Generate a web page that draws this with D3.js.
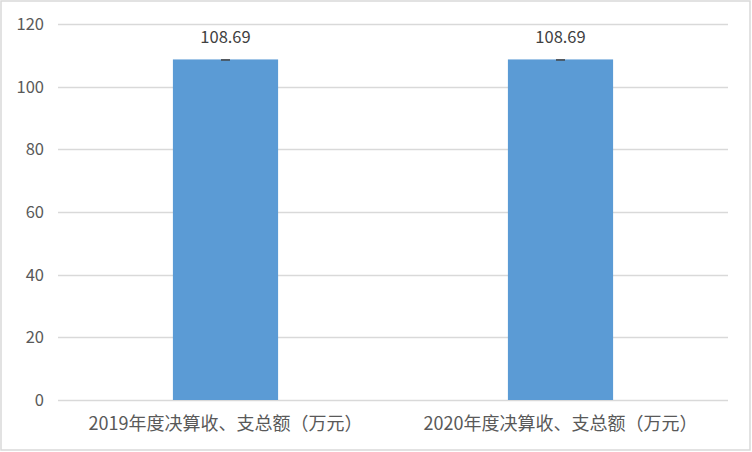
<!DOCTYPE html>
<meta charset="utf-8">
<script src="https://cdn.jsdelivr.net/npm/d3@7/dist/d3.min.js"></script>
<style>
  body { margin: 0; background: #fff; }
  text { font-family: "Microsoft YaHei", "Noto Sans CJK SC", sans-serif; }
</style>
<div id="js_chart"></div>
<script>
// data
const categories = ["2019年度决算收、支总额（万元）", "2020年度决算收、支总额（万元）"];
const values = [108.69, 108.69];
const valueLabels = ["108.69", "108.69"];
const yTicks = [0, 20, 40, 60, 80, 100, 120];

const width = 752, height = 452;
const margin = {top: 24, right: 24, bottom: 52, left: 58};

const svg = d3.select("#js_chart").append("svg")
    .attr("width", width)
    .attr("height", height);

// outer frame
svg.append("rect")
    .attr("x", 1).attr("y", 1)
    .attr("width", width - 3).attr("height", height - 3)
    .attr("fill", "#fff")
    .attr("stroke", "#d9d9d9")
    .attr("stroke-width", 1.5);

const x = d3.scaleBand()
    .domain(categories)
    .range([margin.left, width - margin.right])
    .paddingInner(0.686)
    .paddingOuter(0.343);

const y = d3.scaleLinear()
    .domain([0, 120])
    .range([height - margin.bottom, margin.top]);

// gridlines
svg.append("g")
    .selectAll("line")
    .data(yTicks)
    .enter().append("line")
    .attr("x1", margin.left)
    .attr("x2", width - margin.right)
    .attr("y1", d => Math.round(y(d)) + 0.5)
    .attr("y2", d => Math.round(y(d)) + 0.5)
    .attr("stroke", "#d9d9d9")
    .attr("stroke-width", 1.3);

// y labels
svg.append("g")
    .selectAll("text")
    .data(yTicks)
    .enter().append("text")
    .attr("x", 44)
    .attr("y", d => y(d))
    .attr("dy", "0.36em")
    .attr("text-anchor", "end")
    .attr("font-size", 16.5)
    .attr("fill", "#595959")
    .text(d => d);

// bars
svg.append("g")
    .selectAll("rect")
    .data(values)
    .enter().append("rect")
    .attr("x", (d, i) => x(categories[i]))
    .attr("y", d => y(d))
    .attr("width", x.bandwidth())
    .attr("height", d => y(0) - y(d))
    .attr("fill", "#5b9bd5");

// tiny error caps at bar top
svg.append("g")
    .selectAll("line")
    .data(values)
    .enter().append("line")
    .attr("x1", (d, i) => x(categories[i]) + x.bandwidth() / 2 - 4.5)
    .attr("x2", (d, i) => x(categories[i]) + x.bandwidth() / 2 + 4.5)
    .attr("y1", d => y(d) + 0.5)
    .attr("y2", d => y(d) + 0.5)
    .attr("stroke", "#404040")
    .attr("stroke-width", 1.5);

// value labels
svg.append("g")
    .selectAll("text")
    .data(values)
    .enter().append("text")
    .attr("x", (d, i) => x(categories[i]) + x.bandwidth() / 2)
    .attr("y", d => y(d) - 16)
    .attr("text-anchor", "middle")
    .attr("font-size", 16.5)
    .attr("fill", "#404040")
    .text((d, i) => valueLabels[i]);

// category labels
svg.append("g")
    .selectAll("text")
    .data(categories)
    .enter().append("text")
    .attr("x", d => x(d) + x.bandwidth() / 2)
    .attr("y", height - margin.bottom + 30)
    .attr("text-anchor", "middle")
    .attr("font-size", 18)
    .attr("fill", "#595959")
    .text(d => d);
</script>
